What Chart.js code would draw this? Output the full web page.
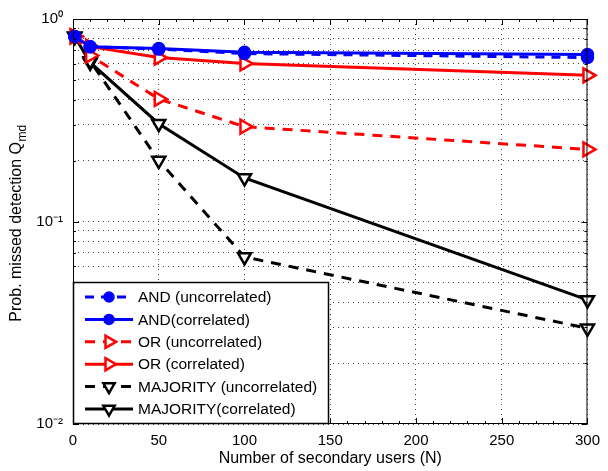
<!DOCTYPE html>
<html>
<head>
<meta charset="utf-8">
<script src="https://cdn.jsdelivr.net/npm/chart.js@4.4.1/dist/chart.umd.min.js"></script>
<style>
  html, body { margin: 0; padding: 0; background: #fff; }
  #wrap { width: 608px; height: 471px; }
</style>
</head>
<body>
<div id="wrap"><canvas id="c" width="608" height="471"></canvas></div>
<script>
// ---- data ----
const N = [1, 10, 50, 100, 300];
const andUncorrelated = [0.82, 0.73, 0.71, 0.675, 0.645];
const andCorrelated   = [0.82, 0.73, 0.715, 0.685, 0.667];
const orUncorrelated  = [0.82, 0.66, 0.403, 0.294, 0.227];
const orCorrelated    = [0.82, 0.73, 0.645, 0.603, 0.527];
const majUncorrelated = [0.82, 0.62, 0.20, 0.0668, 0.0297];
const majCorrelated   = [0.82, 0.61, 0.304, 0.164, 0.041];
const seriesLabels = ['AND (uncorrelated)', 'AND(correlated)', 'OR (uncorrelated)', 'OR (correlated)', 'MAJORITY (uncorrelated)', 'MAJORITY(correlated)'];
const xTicks = [0, 50, 100, 150, 200, 250, 300];
const yDecades = [0.01, 0.1, 1];
const yTickLabels = ['10\u207B\u00B2', '10\u207B\u00B9', '10\u2070'];
const xTitle = 'Number of secondary users (N)';
const yTitleMain = 'Prob. missed detection Q';
const yTitleSub = 'md';

const pts = arr => arr.map((v, i) => ({ x: N[i], y: v }));
const FONT = '"Liberation Sans", Arial, Helvetica, sans-serif';

const styles = [
  { c: '#0000ff', dash: [9, 7], ps: 'circle', rot: 0, r: 5.5, bg: '#0000ff' },
  { c: '#0000ff', dash: [], ps: 'circle', rot: 0, r: 5.5, bg: '#0000ff' },
  { c: '#ff0000', dash: [10, 8], ps: 'triangle', rot: 90, r: 8, bg: '#ffffff' },
  { c: '#ff0000', dash: [], ps: 'triangle', rot: 90, r: 8, bg: '#ffffff' },
  { c: '#000000', dash: [10, 8], ps: 'triangle', rot: 180, r: 7.5, bg: '#ffffff' },
  { c: '#000000', dash: [], ps: 'triangle', rot: 180, r: 7.5, bg: '#ffffff' },
];
const values = [andUncorrelated, andCorrelated, orUncorrelated, orCorrelated, majUncorrelated, majCorrelated];

const datasets = values.map((arr, i) => ({
  label: seriesLabels[i],
  data: pts(arr),
  borderColor: styles[i].c,
  backgroundColor: styles[i].bg,
  borderWidth: 3,
  borderDash: styles[i].dash,
  pointStyle: styles[i].ps,
  pointRotation: styles[i].rot,
  pointRadius: styles[i].r,
  pointBorderColor: styles[i].c,
  pointBackgroundColor: styles[i].bg,
  pointBorderWidth: 2.5,
  tension: 0,
  fill: false,
  clip: false,
}));

const decoPlugin = {
  id: 'deco',
  afterDraw(chart) {
    const ctx = chart.ctx;
    const a = chart.chartArea;
    const xs = chart.scales.x, ys = chart.scales.y;
    ctx.save();
    // box
    ctx.strokeStyle = '#000'; ctx.lineWidth = 1; ctx.setLineDash([]);
    ctx.strokeRect(a.left + 0.5, a.top + 0.5, a.right - a.left - 1, a.bottom - a.top - 1);
    // x ticks (inside), major every 50, minor every 10
    ctx.beginPath();
    for (let v = 0; v <= 300; v += 10) {
      const px = Math.round(xs.getPixelForValue(v)) + 0.5;
      const len = (v % 50 === 0) ? 6 : 3;
      ctx.moveTo(px, a.bottom); ctx.lineTo(px, a.bottom - len);
      ctx.moveTo(px, a.top); ctx.lineTo(px, a.top + len);
    }
    // y ticks (inside)
    yDecades.forEach((d) => {
      for (let m = 1; m <= 9; m++) {
        const v = d * m;
        if (v > 1.0001) break;
        const py = Math.round(ys.getPixelForValue(v)) + 0.5;
        const len = m === 1 ? 6 : 3;
        ctx.moveTo(a.left, py); ctx.lineTo(a.left + len, py);
        ctx.moveTo(a.right, py); ctx.lineTo(a.right - len, py);
      }
    });
    ctx.stroke();

    // y title with subscript
    ctx.fillStyle = '#000';
    ctx.translate(17, (a.top + a.bottom) / 2 + 2);
    ctx.rotate(-Math.PI / 2);
    ctx.font = '16px ' + FONT;
    const w1 = ctx.measureText(yTitleMain).width;
    ctx.font = '12px ' + FONT;
    const w2 = ctx.measureText(yTitleSub).width;
    const start = -(w1 + w2) / 2;
    ctx.textBaseline = 'middle';
    ctx.textAlign = 'left';
    ctx.font = '16px ' + FONT;
    ctx.fillText(yTitleMain, start, 0);
    ctx.font = '12px ' + FONT;
    ctx.fillText(yTitleSub, start + w1 + 0.5, 6);
    ctx.restore();

    // legend box
    ctx.save();
    const lx = xs.getPixelForValue(0), ly = 282, lw = 256, lh = a.bottom - 282;
    ctx.fillStyle = '#fff';
    ctx.fillRect(lx, ly, lw, lh);
    ctx.strokeStyle = '#000'; ctx.lineWidth = 1.5;
    ctx.strokeRect(lx + 0.5, ly + 0.5, lw - 1, lh - 1);
    chart.data.datasets.forEach((ds, i) => {
      const y = 297 + i * 22.4;
      ctx.strokeStyle = ds.borderColor;
      ctx.lineWidth = 3;
      ctx.setLineDash(ds.borderDash || []);
      ctx.beginPath();
      ctx.moveTo(lx + 12, y); ctx.lineTo(lx + 60, y);
      ctx.stroke();
      ctx.setLineDash([]);
      ctx.fillStyle = ds.pointBackgroundColor;
      ctx.strokeStyle = ds.pointBorderColor;
      ctx.lineWidth = ds.pointBorderWidth;
      if (Chart.helpers && Chart.helpers.drawPoint) {
        Chart.helpers.drawPoint(ctx, { pointStyle: ds.pointStyle, rotation: ds.pointRotation, radius: ds.pointRadius - 1, borderWidth: ds.pointBorderWidth }, lx + 36, y);
      }
      ctx.fillStyle = '#000';
      ctx.font = '15.5px ' + FONT;
      ctx.textBaseline = 'middle';
      ctx.textAlign = 'left';
      ctx.fillText(ds.label, lx + 65, y + 1);
    });
    ctx.restore();
  }
};

new Chart(document.getElementById('c'), {
  type: 'line',
  data: { datasets },
  plugins: [decoPlugin],
  options: {
    responsive: false,
    animation: false,
    devicePixelRatio: 1,
    layout: { padding: { left: 0, right: 15, top: 14, bottom: 0 } },
    plugins: { legend: { display: false }, tooltip: { enabled: false } },
    scales: {
      x: {
        type: 'linear', min: 0, max: 300,
        afterBuildTicks: s => { s.ticks = xTicks.map(v => ({ value: v })); },
        afterFit: s => { s.height = 47; },
        ticks: { color: '#000', font: { family: FONT, size: 15 }, padding: 8, maxRotation: 0, autoSkip: false },
        grid: { color: 'rgba(0,0,0,0.75)', lineWidth: 1, drawTicks: false },
        border: { display: false, dash: [1, 4] },
        title: { display: true, text: xTitle, color: '#000', font: { family: FONT, size: 16 }, padding: { top: 0, bottom: 3 } },
      },
      y: {
        type: 'logarithmic', min: 0.01, max: 1,
        afterBuildTicks: s => {
          const t = [];
          yDecades.forEach(d => { for (let m = 1; m <= 9; m++) { const v = d * m; if (v <= 1.0001) t.push({ value: +v.toPrecision(3) }); } });
          s.ticks = t;
        },
        afterFit: s => { s.width = 73; },
        ticks: {
          color: '#000', font: { family: FONT, size: 15 }, padding: 10, autoSkip: false,
          callback: (v) => { const k = yDecades.findIndex(d => Math.abs(d - v) < 1e-9); return k >= 0 ? yTickLabels[k] : ''; }
        },
        grid: { color: 'rgba(0,0,0,0.75)', lineWidth: 1, drawTicks: false },
        border: { display: false, dash: [1, 4] },
      }
    }
  }
});
</script>
</body>
</html>
